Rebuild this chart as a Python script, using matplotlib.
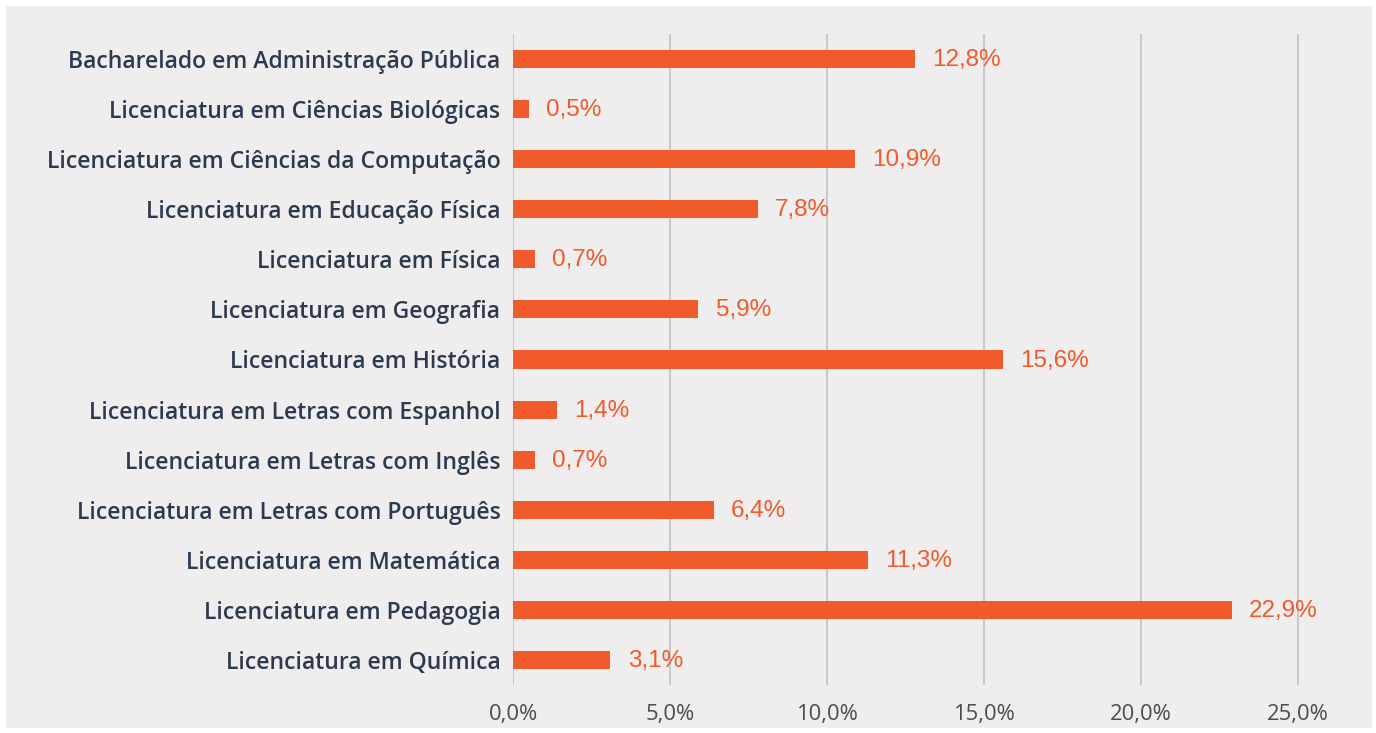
import matplotlib.pyplot as plt
from matplotlib.patches import Rectangle
from matplotlib.ticker import FuncFormatter

cursos = [
    'Bacharelado em Administração Pública',
    'Licenciatura em Ciências Biológicas',
    'Licenciatura em Ciências da Computação',
    'Licenciatura em Educação Física',
    'Licenciatura em Física',
    'Licenciatura em Geografia',
    'Licenciatura em História',
    'Licenciatura em Letras com Espanhol',
    'Licenciatura em Letras com Inglês',
    'Licenciatura em Letras com Português',
    'Licenciatura em Matemática',
    'Licenciatura em Pedagogia',
    'Licenciatura em Química',
]
percentuais = [12.8, 0.5, 10.9, 7.8, 0.7, 5.9, 15.6, 1.4, 0.7, 6.4, 11.3, 22.9, 3.1]
ticks = [0, 5, 10, 15, 20, 25]

bg = '#efeded'
laranja = '#f15a2b'
azul = '#2c3a50'

fig = plt.figure(figsize=(13.76, 7.33), dpi=100, facecolor='white')
fig.patches.append(Rectangle((6 / 1376, 5 / 733), 1366 / 1376, 722 / 733,
                             transform=fig.transFigure, facecolor=bg,
                             edgecolor='none', zorder=-1))
ax = fig.add_axes([513 / 1376, 48 / 733, 832 / 1376, 651 / 733])
ax.set_facecolor(bg)

y = range(len(cursos))
ax.barh(y, percentuais, height=0.36, color=laranja, zorder=3)
for i, v in enumerate(percentuais):
    ax.text(v + 0.55, i + 0.02, f'{v:.1f}%'.replace('.', ','), va='center', ha='left',
            color=laranja, fontsize=17.5, family='Liberation Sans')

ax.set_ylim(len(cursos) - 0.5, -0.5)
ax.set_xlim(0, 26.5)
ax.set_yticks(list(y))
ax.set_yticklabels(cursos, fontsize=16.6, color=azul, family='Open Sans',
                   fontweight='semibold')
ax.set_xticks(ticks)
ax.xaxis.set_major_formatter(FuncFormatter(lambda v, p: f'{v:.1f}%'.replace('.', ',')))
for lab in ax.get_xticklabels():
    lab.set_family('Open Sans')
    lab.set_fontsize(15.8)
    lab.set_color('#4a4d52')
ax.tick_params(axis='both', length=0)
ax.tick_params(axis='y', pad=9)
ax.tick_params(axis='x', pad=14)
ax.grid(axis='x', color='#c4c6cb', linewidth=1.3, zorder=0)
for s in ax.spines.values():
    s.set_visible(False)

fig.savefig('out.png', dpi=100, facecolor='white')
